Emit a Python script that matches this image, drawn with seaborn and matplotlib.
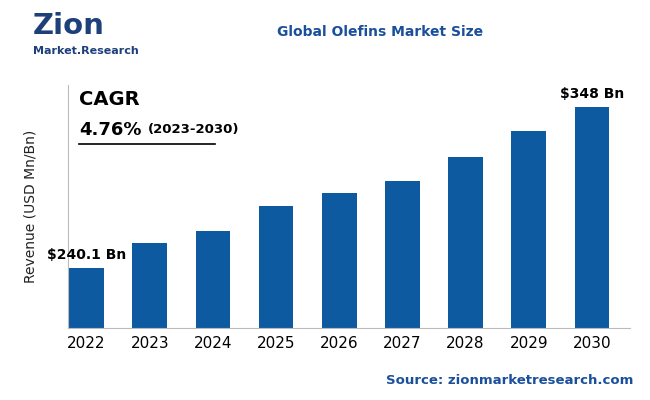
import matplotlib
matplotlib.use("Agg")
import matplotlib.pyplot as plt
import seaborn as sns
import pandas as pd

years = ["2022","2023","2024","2025","2026","2027","2028","2029","2030"]
values = [240.1, 257, 265, 281.7, 290.5, 298.5, 315, 332, 348]
first_label = "$240.1 Bn"
last_label = "$348 Bn"

df = pd.DataFrame({"year": years, "value": values})
fig = plt.figure(figsize=(6.5, 4.0), dpi=100)
ax = fig.add_axes([0.104, 0.18, 0.865, 0.6075])
sns.barplot(data=df, x="year", y="value", color="#0d5aa0", saturation=1, width=0.55, ax=ax)
ax.set_ylim(200, 363)
ax.set_xlim(-0.3, 8.6)
ax.set_yticks([])
ax.set_xlabel("")
ax.set_ylabel("Revenue (USD Mn/Bn)", fontsize=10, color="#222222", labelpad=22)
for s in ["top", "right"]:
    ax.spines[s].set_visible(False)
ax.spines["left"].set_color("#bbbbbb")
ax.spines["bottom"].set_color("#bbbbbb")
ax.tick_params(axis="x", length=0, labelsize=11, pad=6)
ax.text(0, values[0] + 4, first_label, ha="center", va="bottom", fontsize=10, fontweight="bold")
ax.text(8, values[-1] + 4, last_label, ha="center", va="bottom", fontsize=10, fontweight="bold")

fig.text(0.585, 0.92, "Global Olefins Market Size", ha="center", va="center",
         fontsize=10, fontweight="bold", color="#1a4f9c")
fig.text(0.975, 0.05, "Source: zionmarketresearch.com", ha="right", va="center",
         fontsize=9.5, fontweight="bold", color="#1a4f9c")
fig.text(0.05, 0.935, "Zion", fontsize=21, fontweight="bold", color="#1d3f7a", va="center")
fig.text(0.05, 0.872, "Market.Research", fontsize=8, fontweight="bold", color="#1d3f7a", va="center")
fig.text(0.122, 0.752, "CAGR", fontsize=14, fontweight="bold", va="center")
fig.text(0.122, 0.675, "4.76%", fontsize=13, fontweight="bold", va="center")
fig.text(0.228, 0.675, "(2023-2030)", fontsize=9.5, fontweight="bold", va="center")
fig.add_artist(plt.Line2D([0.122, 0.33], [0.64, 0.64], color="black", lw=1.2))
fig.savefig("out.png", dpi=100)
